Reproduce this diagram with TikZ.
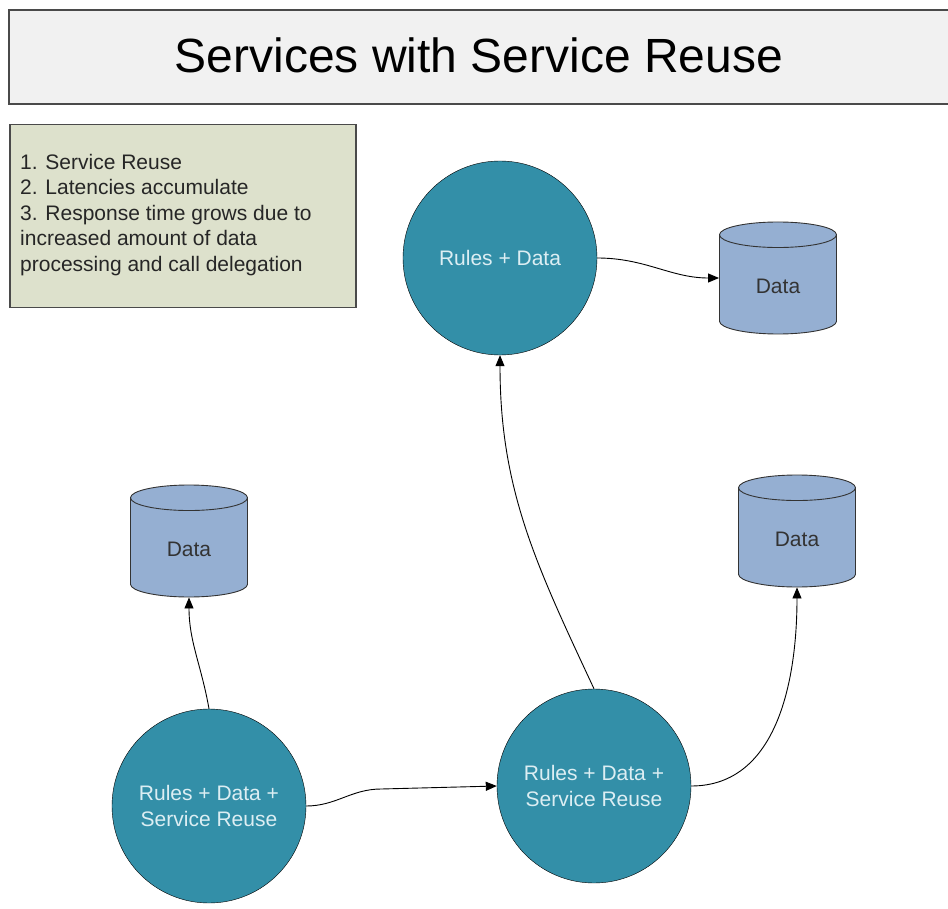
\documentclass[tikz,border=0pt]{standalone}
\usepackage{fontspec}
\setmainfont{Liberation Sans}
\usepackage{xcolor}
\definecolor{colorTitle}{HTML}{F1F1F1}
\definecolor{colorNote}{HTML}{DDE1CC}
\definecolor{colorService}{HTML}{338FA8}
\definecolor{colorServiceText}{HTML}{DCEEF3}
\definecolor{colorStore}{HTML}{95AFD2}
\definecolor{colorBorder}{HTML}{4A4A4A}
\usetikzlibrary{arrows.meta, shapes.geometric, positioning}
\tikzset{
  service/.style={circle, draw=black, fill=colorService, minimum size=194pt, inner sep=0pt,
    text=colorServiceText, align=center, font=\fontsize{21}{26}\selectfont},
  store/.style={cylinder, shape border rotate=90, aspect=0.5, draw=black!80, line width=0.9pt,
    fill=colorStore, minimum width=117pt, minimum height=112pt, anchor=shape center,
    text=black!80, font=\fontsize{21}{24}\selectfont},
  call/.style={->, >={Triangle[length=11pt, width=9pt]}, line width=0.9pt, black}
}

\begin{document}
\begin{tikzpicture}[x=1pt, y=-1pt]
\useasboundingbox (0,0) rectangle (948,909);
\node[draw=colorBorder, line width=1.5pt, fill=colorTitle, minimum width=942pt, minimum height=94pt]
  (title) at (480,57) {};
\node[font=\fontsize{48}{54}\selectfont] (titletext) at (479,55) {Services with Service Reuse};
\node[draw=colorBorder, line width=1.5pt, fill=colorNote, minimum width=346pt, minimum height=183pt,
  anchor=north west] (note) at (9,124) {};
\node[anchor=north west, align=left, font=\fontsize{21}{25.5}\selectfont, inner sep=0pt, text=black!85]
  (notetext) at (20,154)
  {1. Service Reuse\\2. Latencies accumulate\\3. Response time grows due to\\increased amount of data\\processing and call delegation};

\node[service] (s1) at (500,258) {Rules + Data};
\node[store] (d1) at (778,278) {Data};
\node[store] (d2) at (189,541) {Data};
\node[store] (d3) at (797,531) {Data};
\node[service] (s2) at (209,806) {Rules + Data +\\Service Reuse};
\node[service] (s3) at (594,786) {Rules + Data +\\Service Reuse};

\draw [call] (s1.east) to [out=0, in=180] (d1.west |- d1.shape center);
\draw [call] (s3.north) to [out=115, in=-90] (s1.south);
\draw [call] (s3.east) to [out=0, in=-90] (d3.south);
\draw [call] (s2.north) to [out=100, in=-90] (d2.south);
\draw [call] (s2.east) to [out=0, in=180] ++(75,-17) -- (s3.west);
\end{tikzpicture}
\end{document}
